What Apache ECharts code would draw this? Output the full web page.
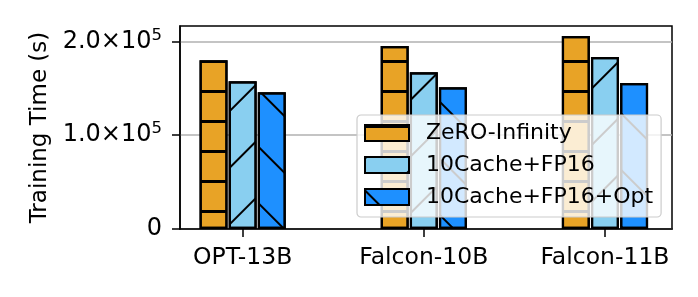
<!DOCTYPE html>
<html><head><meta charset="utf-8">
<script src="https://cdn.jsdelivr.net/npm/echarts@6/dist/echarts.min.js"></script>
<style>html,body{margin:0;padding:0;background:#fff}#c{width:698px;height:297px}</style>
</head><body><div id="c"></div>
<script>
const categories = ['OPT-13B', 'Falcon-10B', 'Falcon-11B'];
const seriesNames = ['ZeRO-Infinity', '10Cache+FP16', '10Cache+FP16+Opt'];
const zeroInfinity = [179800, 195000, 205600];
const cacheFP16 = [157400, 167000, 183300];
const cacheFP16Opt = [145700, 151000, 155600];
const yTicks = [0, 100000, 200000];
const yTickLabels = ['0', '1.0×10^5', '2.0×10^5'];

const FONT = 'DejaVu Sans';
const chart = echarts.init(document.getElementById('c'), null, {renderer: 'canvas'});

function pts(arr) { return arr.map((v, i) => [i, v]); }

const colors = ['#E8A326', '#89CFF0', '#1E90FF'];
const decals = [
  {symbol: 'rect', symbolSize: 1, dashArrayX: [1, 0], dashArrayY: [2.2, 27], rotation: 0, color: '#000'},
  {symbol: 'rect', symbolSize: 1, dashArrayX: [1, 0], dashArrayY: [2, 38], rotation: -Math.PI / 4, color: '#000'},
  {symbol: 'rect', symbolSize: 1, dashArrayX: [1, 0], dashArrayY: [2, 38], rotation: Math.PI / 4, color: '#000'}
];
const datas = [zeroInfinity, cacheFP16, cacheFP16Opt];

const series = datas.map((d, k) => ({
  name: seriesNames[k],
  type: 'bar',
  data: pts(d),
  barWidth: 28,
  barGap: '4%',
  itemStyle: {color: colors[k], borderColor: '#000', borderWidth: 2.2, decal: decals[k]},
  emphasis: {disabled: true}
}));

chart.setOption({
  animation: false,
  grid: {left: 180, top: 26, right: 26, bottom: 68, show: true, borderColor: '#000', borderWidth: 1.5, backgroundColor: 'transparent'},
  xAxis: {
    type: 'value', min: -0.346, max: 2.37,
    splitLine: {show: false},
    axisLine: {onZero: false, lineStyle: {color: '#000', width: 1.5}},
    axisTick: {show: true, length: 8, customValues: [0, 1, 2], lineStyle: {color: '#000', width: 1.5}},
    axisLabel: {customValues: [0, 1, 2], formatter: v => categories[Math.round(v)] || '', fontFamily: FONT, fontSize: 23.5, color: '#000', margin: 17}
  },
  yAxis: {
    type: 'value', min: 0, max: 216300, interval: 100000,
    name: 'Training Time (s)', nameLocation: 'middle', nameGap: 128,
    nameTextStyle: {fontFamily: FONT, fontSize: 23, color: '#000'},
    axisLine: {show: true, onZero: false, lineStyle: {color: '#000', width: 1.5}},
    axisTick: {show: true, length: 8, customValues: yTicks, lineStyle: {color: '#000', width: 1.5}},
    splitLine: {show: true, lineStyle: {color: '#b0b0b0', width: 1.5}},
    axisLabel: {
      customValues: yTicks,
      margin: 18,
      formatter: v => {
        const i = yTicks.indexOf(Math.round(v));
        if (i < 0) return '';
        const s = yTickLabels[i];
        if (s.indexOf('^') < 0) return '{a|' + s + '}';
        const p = s.split('^');
        return '{a|' + p[0] + '}{s|' + p[1] + '}';
      },
      rich: {
        a: {fontFamily: FONT, fontSize: 24, color: '#000'},
        s: {fontFamily: FONT, fontSize: 16.5, color: '#000', padding: [0, 0, 12, 0]}
      }
    }
  },
  legend: {
    orient: 'vertical', left: 357, top: 115,
    padding: [7, 8, 9, 7],
    itemWidth: 44, itemHeight: 16, itemGap: 10,
    backgroundColor: 'rgba(255,255,255,0.8)', borderColor: '#cccccc', borderWidth: 1.2, borderRadius: 4,
    textStyle: {fontFamily: FONT, fontSize: 22, color: '#000', lineHeight: 22, padding: [0, 0, 0, 12]},
    icon: 'rect',
    data: seriesNames
  },
  series: series
});
</script></body></html>
